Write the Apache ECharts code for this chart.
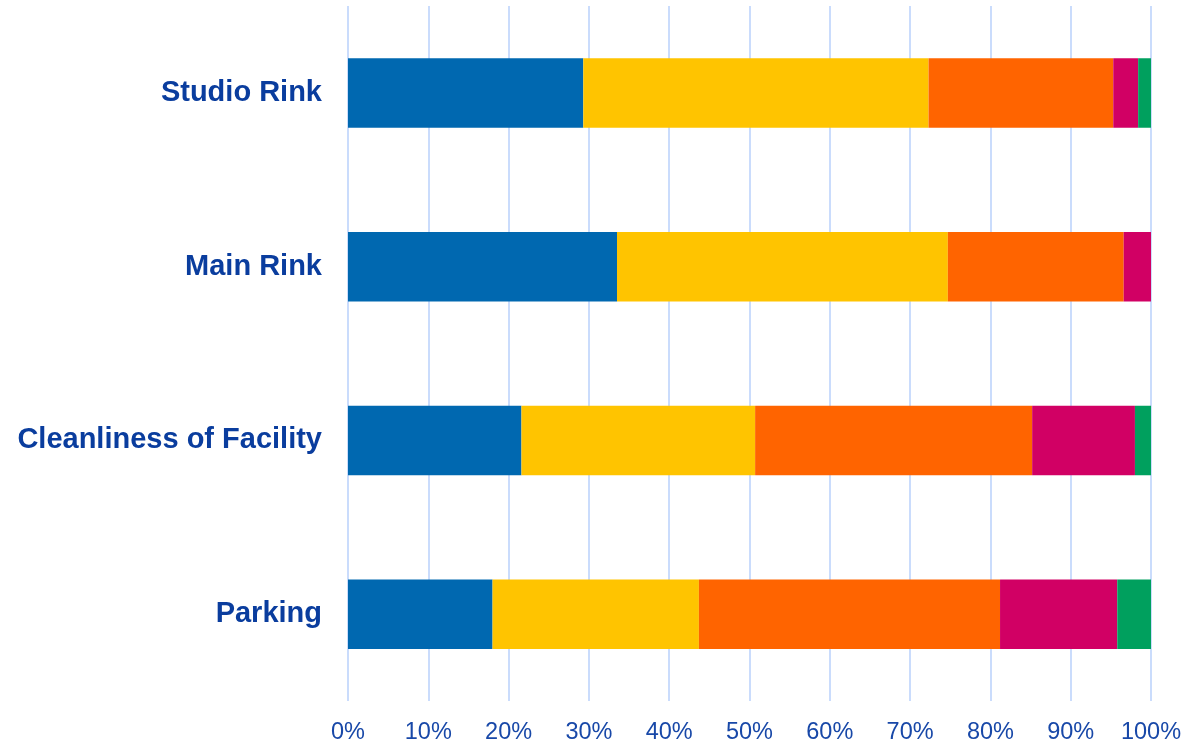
<!DOCTYPE html>
<html>
<head>
<meta charset="utf-8">
<script src="https://cdn.jsdelivr.net/npm/echarts@6/dist/echarts.min.js"></script>
<style>html,body{margin:0;padding:0;background:#fff}#c{width:1201px;height:745px}</style>
</head>
<body>
<div id="c"></div>
<script>
const categories = ['Studio Rink', 'Main Rink', 'Cleanliness of Facility', 'Parking'];
const excellent = [29.3, 33.5, 21.6, 18.0];
const good = [43.0, 41.2, 29.1, 25.7];
const fair = [23.0, 21.9, 34.5, 37.5];
const poor = [3.1, 3.4, 12.8, 14.6];
const veryPoor = [1.6, 0, 2.0, 4.2];
const seriesNames = ['Excellent', 'Good', 'Fair', 'Poor', 'Very Poor'];
const colors = ['#0068b0', '#ffc400', '#ff6400', '#d10064', '#00a05e'];
const seriesData = [excellent, good, fair, poor, veryPoor];

const chart = echarts.init(document.getElementById('c'));
chart.setOption({
  animation: false,
  grid: { left: 348, right: 50, top: 6, bottom: 42, containLabel: false },
  xAxis: {
    type: 'value', min: 0, max: 100, interval: 10,
    axisLabel: { formatter: '{value}%', color: '#1848a8', fontSize: 23.5, fontFamily: 'Liberation Sans, Arial, sans-serif', margin: 20 },
    splitLine: { show: true, lineStyle: { color: '#cadcfc', width: 2 } },
    axisLine: { show: false }, axisTick: { show: false }
  },
  yAxis: {
    type: 'category', data: categories, inverse: true,
    axisLabel: { color: '#0a3d9e', fontSize: 29, fontWeight: 'bold', fontFamily: 'Liberation Sans, Arial, sans-serif', margin: 26, padding: [5, 0, 0, 0] },
    axisLine: { show: false }, axisTick: { show: false }, splitLine: { show: false }
  },
  series: seriesData.map((d, i) => ({
    name: seriesNames[i], type: 'bar', stack: 'total', data: d,
    barWidth: '40%', itemStyle: { color: colors[i] }
  }))
});
</script>
</body>
</html>
